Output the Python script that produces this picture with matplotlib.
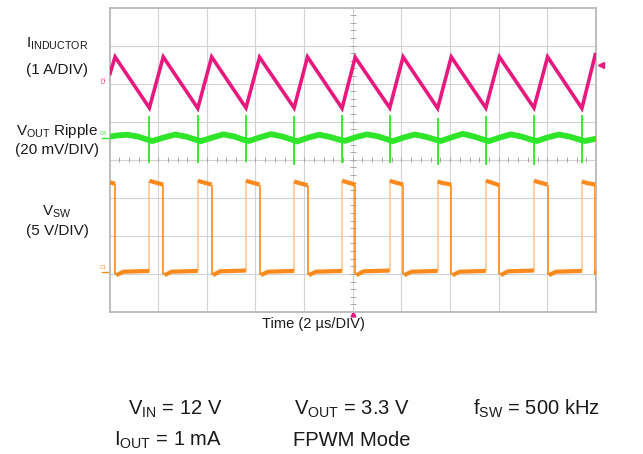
import matplotlib
matplotlib.use('Agg')
import matplotlib.pyplot as plt
from matplotlib.collections import LineCollection

plt.rcParams['font.family'] = ['Liberation Sans', 'DejaVu Sans']
plt.rcParams['mathtext.fontset'] = 'custom'
plt.rcParams['mathtext.rm'] = 'Liberation Sans'
plt.rcParams['mathtext.it'] = 'Liberation Sans'

# ---------------- data ----------------
# switching instants in microseconds (2 us / div, 10 div)
t_off = [0.23, 2.21, 4.20, 6.17, 8.14, 10.10, 12.07, 14.05, 16.03, 18.01, 19.97]
t_on = [1.64, 3.63, 5.61, 7.59, 9.56, 11.52, 13.49, 15.47, 17.45, 19.42]

# inductor current (A)
il_start = 0.15
il_peak = [0.59, 0.59, 0.59, 0.58, 0.59, 0.58, 0.59, 0.59, 0.59, 0.59, 0.65]
il_valley = [-0.75, -0.76, -0.75, -0.75, -0.76, -0.75, -0.76, -0.75, -0.75, -0.76]

# switch-node voltage (V)
vsw_first_high = [11.8, 11.6]
vsw_high_start = [12.0, 12.0, 12.0, 11.9, 12.0, 12.0, 11.9, 12.0, 12.0, 11.9]
vsw_high_end = [11.5, 11.5, 11.5, 11.4, 11.5, 11.5, 11.5, 11.4, 11.5, 11.5]
vsw_low_start = [-0.4, -0.4, -0.4, -0.4, -0.4, -0.4, -0.4, -0.4, -0.4, -0.4, -0.4]
vsw_low_end = [0.15, 0.15, 0.2, 0.15, 0.15, 0.2, 0.15, 0.15, 0.2, 0.15, 0.1]

# output ripple (mV)
ripple_t = [0.00, 0.30, 0.72, 1.15, 1.55,
            1.76, 2.25, 2.70, 3.15, 3.55,
            3.75, 4.22, 4.68, 5.12, 5.53,
            5.73, 6.20, 6.65, 7.10, 7.51,
            7.71, 8.18, 8.62, 9.05, 9.48,
            9.68, 10.15, 10.58, 11.02, 11.44,
            11.64, 12.11, 12.55, 12.98, 13.41,
            13.61, 14.08, 14.52, 14.97, 15.39,
            15.59, 16.06, 16.50, 16.95, 17.37,
            17.57, 18.04, 18.48, 18.92, 19.34,
            19.54, 20.00]
ripple_mv = [0.9, 1.5, 1.9, 1.0, -0.6,
             -1.4, 0.5, 2.0, 0.9, -0.7,
             -1.5, 0.4, 2.1, 1.0, -0.8,
             -1.4, 0.6, 2.2, 1.0, -0.7,
             -1.6, 0.4, 1.9, 0.8, -0.8,
             -1.3, 0.7, 2.1, 1.1, -0.6,
             -1.5, 0.5, 2.0, 0.9, -0.7,
             -1.4, 0.6, 2.4, 1.0, -0.7,
             -1.5, 0.5, 2.1, 0.9, -0.8,
             -1.4, 0.6, 2.0, 0.9, -0.7,
             -1.4, -0.2]
spike_hi = [11.7, 12.2, 12.2, 11.7, 12.2, 12.2, 10.7, 11.7, 12.2, 12.2]
spike_lo = [-13.0, -13.0, -12.3, -14.0, -13.0, -13.0, -14.0, -14.0, -14.0, -13.0]

left_labels = [r'I$_{\mathrm{INDUCTOR}}$', '(1 A/DIV)',
               r'V$_{\mathrm{OUT}}$ Ripple', '(20 mV/DIV)',
               r'V$_{\mathrm{SW}}$', '(5 V/DIV)']
x_label = 'Time (2 \u00b5s/DIV)'
cond_row1 = [r'V$_{\mathrm{IN}}$ = 12 V', r'V$_{\mathrm{OUT}}$ = 3.3 V',
             r'f$_{\mathrm{SW}}$ = 500 kHz']
cond_row2 = [r'I$_{\mathrm{OUT}}$ = 1 mA', 'FPWM Mode']

# ---------------- layout / style ----------------
W, H = 643, 454
PINK = '#e8197e'
GREEN = '#2ee52a'
ORANGE = '#fb8a1c'
ORANGE_LIGHT = '#fcc48e'
GRID = '#d2d2d2'

# channel ground positions (divisions) and scales
IL_OFF, IL_SCALE = 2.112, 1.0
VO_OFF, VO_SCALE = 0.562, 20.0
VS_OFF, VS_SCALE = -2.951, 5.0

fig = plt.figure(figsize=(W / 100, H / 100), dpi=100)
left, right, top, bottom = 109.5, 596.0, 7.5, 312.0
ax = fig.add_axes([left / W, 1 - bottom / H, (right - left) / W, (bottom - top) / H])
ax.set_xlim(0, 20)
ax.set_ylim(-4, 4)
ax.set_xticks([])
ax.set_yticks([])
for s in ax.spines.values():
    s.set_color('#b8b8b8')
    s.set_linewidth(1.3)

# graticule
for k in range(1, 10):
    ax.axvline(2 * k, color=GRID, lw=0.8, zorder=0)
for k in range(-3, 4):
    ax.axhline(k, color=GRID, lw=0.8, zorder=0)
segs = []
for i in range(1, 50):
    x = i * 0.4
    segs.append([(x, -0.07), (x, 0.07)])
for i in range(-19, 20):
    y = i * 0.2
    segs.append([(10 - 0.13, y), (10 + 0.13, y)])
ax.add_collection(LineCollection(segs, colors='#a8a8a8', linewidths=0.7, zorder=0))

# inductor current
it = [0.02]
iv = [il_start]
for k in range(len(t_off)):
    it.append(t_off[k]); iv.append(il_peak[k])
    if k < len(t_on):
        it.append(t_on[k]); iv.append(il_valley[k])
ax.plot(it, [IL_OFF + v / IL_SCALE for v in iv], color=PINK, lw=2.6,
        solid_joinstyle='miter', zorder=3)

# output ripple
ax.plot(ripple_t, [VO_OFF + v / VO_SCALE for v in ripple_mv], color=GREEN, lw=4.2, zorder=3)
ax.vlines(t_on, [VO_OFF + v / VO_SCALE for v in spike_lo],
          [VO_OFF + v / VO_SCALE for v in spike_hi], color=GREEN, lw=1.3, zorder=3)

# switch node
vsw = lambda v: VS_OFF + v / VS_SCALE
hs = [[(0.02, vsw(vsw_first_high[0])), (t_off[0], vsw(vsw_first_high[1]))]]
fall = [[(t_off[0], vsw(vsw_first_high[1])), (t_off[0], vsw(vsw_low_start[0]))]]
ls = []
rise = []
for k in range(len(t_on)):
    ls.append([(t_off[k] + 0.05, vsw(vsw_low_start[k])), (t_off[k] + 0.35, vsw(vsw_low_end[k] - 0.1)),
               (t_on[k], vsw(vsw_low_end[k]))])
    rise.append([(t_on[k], vsw(vsw_low_end[k])), (t_on[k], vsw(vsw_high_start[k]))])
    hs.append([(t_on[k], vsw(vsw_high_start[k])), (t_on[k] + 0.2, vsw(vsw_high_start[k] - 0.2)),
               (t_off[k + 1], vsw(vsw_high_end[k]))])
    fall.append([(t_off[k + 1], vsw(vsw_high_end[k])), (t_off[k + 1], vsw(vsw_low_start[k + 1]))])
ls.append([(t_off[-1] + 0.03, vsw(vsw_low_start[-1])), (20, vsw(vsw_low_end[-1]))])
ax.add_collection(LineCollection(rise, colors=ORANGE_LIGHT, linewidths=1.1, zorder=2))
ax.add_collection(LineCollection(fall, colors=ORANGE, linewidths=1.2, zorder=2))
ax.add_collection(LineCollection(hs + ls, colors=ORANGE, linewidths=3.0, zorder=3,
                                 capstyle='butt'))

# channel markers and trigger markers
ax.text(-0.22, IL_OFF, 'C2', rotation=90, fontsize=4, color=PINK, ha='center',
        va='center', clip_on=False)
ax.text(-0.25, VO_OFF + 0.05, 'C4', fontsize=4, color=GREEN, ha='center',
        va='bottom', clip_on=False)
ax.plot([-0.3, -0.05], [VO_OFF, VO_OFF], color=GREEN, lw=1, clip_on=False)
ax.text(-0.25, VS_OFF + 0.05, 'C1', fontsize=4, color=ORANGE, ha='center',
        va='bottom', clip_on=False)
ax.plot([-0.3, -0.05], [VS_OFF, VS_OFF], color=ORANGE, lw=1, clip_on=False)
ax.plot([20.2], [2.50], marker='<', ms=4, color=PINK, clip_on=False)
ax.plot([10], [-4.06], marker='^', ms=3.5, color=PINK, clip_on=False)

# text
def ftext(px, py, s, size, ha='center'):
    fig.text(px / W, 1 - py / H, s, fontsize=size, ha=ha, va='center', color='#1a1a1a')

lab_y = [44, 70, 130.5, 150, 212, 231]
for s, y in zip(left_labels, lab_y):
    ftext(57, y, s, 11)
ftext(313, 324, x_label, 10.5)
for s, x in zip(cond_row1, [175, 352, 536]):
    ftext(x, 409, s, 14.5)
for s, x in zip(cond_row2, [168, 352]):
    ftext(x, 440, s, 14.5)

fig.savefig('out.png', dpi=100)
